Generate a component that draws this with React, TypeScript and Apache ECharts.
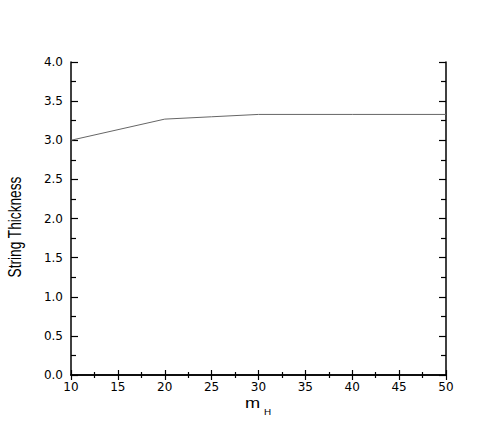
import React, { useEffect, useRef } from "react";
import * as echarts from "echarts";

const xValues = [10, 20, 25, 30, 40, 50];
const thickness = [3.0, 3.27, 3.3, 3.33, 3.33, 3.33];
const xTitle = "m";
const xTitleSub = "H";
const yTitle = "String Thickness";

export default function App() {
  const ref = useRef<HTMLDivElement>(null);
  useEffect(() => {
    const chart = echarts.init(ref.current!, null, { renderer: "svg" });
    const axisLine = { show: true, lineStyle: { color: "#000", width: 1.5 } };
    const labelFont = { fontFamily: "DejaVu Sans", fontSize: 12, color: "#000" };
    chart.setOption({
      animation: false,
      backgroundColor: "#fff",
      grid: { left: 71, right: 45, top: 62, bottom: 68, containLabel: false },
      xAxis: [
        {
          type: "value", min: 10, max: 50, interval: 5, position: "bottom",
          axisLine, splitLine: { show: false },
          axisTick: { inside: true, length: 5, lineStyle: { color: "#000", width: 1.2 } },
          minorTick: { show: true, splitNumber: 2, length: 3, lineStyle: { color: "#000", width: 1.2 } },
          axisLabel: { ...labelFont, margin: 6 },
        },
        {
          type: "value", min: 10, max: 50, interval: 5, position: "top",
          axisLine, splitLine: { show: false },
          axisTick: { inside: true, length: 5, lineStyle: { color: "#000", width: 1.2 } },
          minorTick: { show: true, splitNumber: 2, length: 3, lineStyle: { color: "#000", width: 1.2 } },
          axisLabel: { show: false },
        },
      ],
      yAxis: [
        {
          type: "value", min: 0, max: 4, interval: 0.5, position: "left",
          axisLine, splitLine: { show: false },
          axisTick: { inside: true, length: 7, lineStyle: { color: "#000", width: 1.2 } },
          minorTick: { show: true, splitNumber: 2, length: 5, lineStyle: { color: "#000", width: 1.2 } },
          axisLabel: { ...labelFont, margin: 8, formatter: (v: number) => v.toFixed(1) },
        },
        {
          type: "value", min: 0, max: 4, interval: 0.5, position: "right",
          axisLine, splitLine: { show: false },
          axisTick: { inside: true, length: 7, lineStyle: { color: "#000", width: 1.2 } },
          minorTick: { show: true, splitNumber: 2, length: 5, lineStyle: { color: "#000", width: 1.2 } },
          axisLabel: { show: false },
        },
      ],
      series: [
        {
          type: "line",
          xAxisIndex: 0,
          yAxisIndex: 0,
          data: xValues.map((x, i) => [x, thickness[i]]),
          showSymbol: false,
          lineStyle: { color: "#666", width: 1 },
        },
      ],
      graphic: [
        {
          type: "text",
          x: 15,
          y: 227,
          rotation: Math.PI / 2,
          scaleX: 0.76,
          style: {
            text: yTitle,
            fontFamily: "Liberation Sans",
            fontSize: 18,
            fill: "#000",
            textAlign: "center",
            textVerticalAlign: "middle",
          },
        },
        {
          type: "text",
          x: 245,
          y: 410,
          scaleX: 1.3,
          style: {
            text: xTitle,
            fontFamily: "Liberation Sans",
            fontSize: 14,
            fill: "#000",
            textAlign: "left",
            textVerticalAlign: "bottom",
          },
        },
        {
          type: "text",
          x: 264,
          y: 416,
          scaleX: 1.1,
          style: {
            text: xTitleSub,
            fontFamily: "Liberation Sans",
            fontSize: 9,
            fill: "#000",
            textAlign: "left",
            textVerticalAlign: "bottom",
          },
        },
      ],
    });
    return () => chart.dispose();
  }, []);
  return (
    <div
      ref={ref}
      style={{ position: "fixed", left: 0, top: 0, width: 491, height: 443, background: "#fff" }}
    />
  );
}
